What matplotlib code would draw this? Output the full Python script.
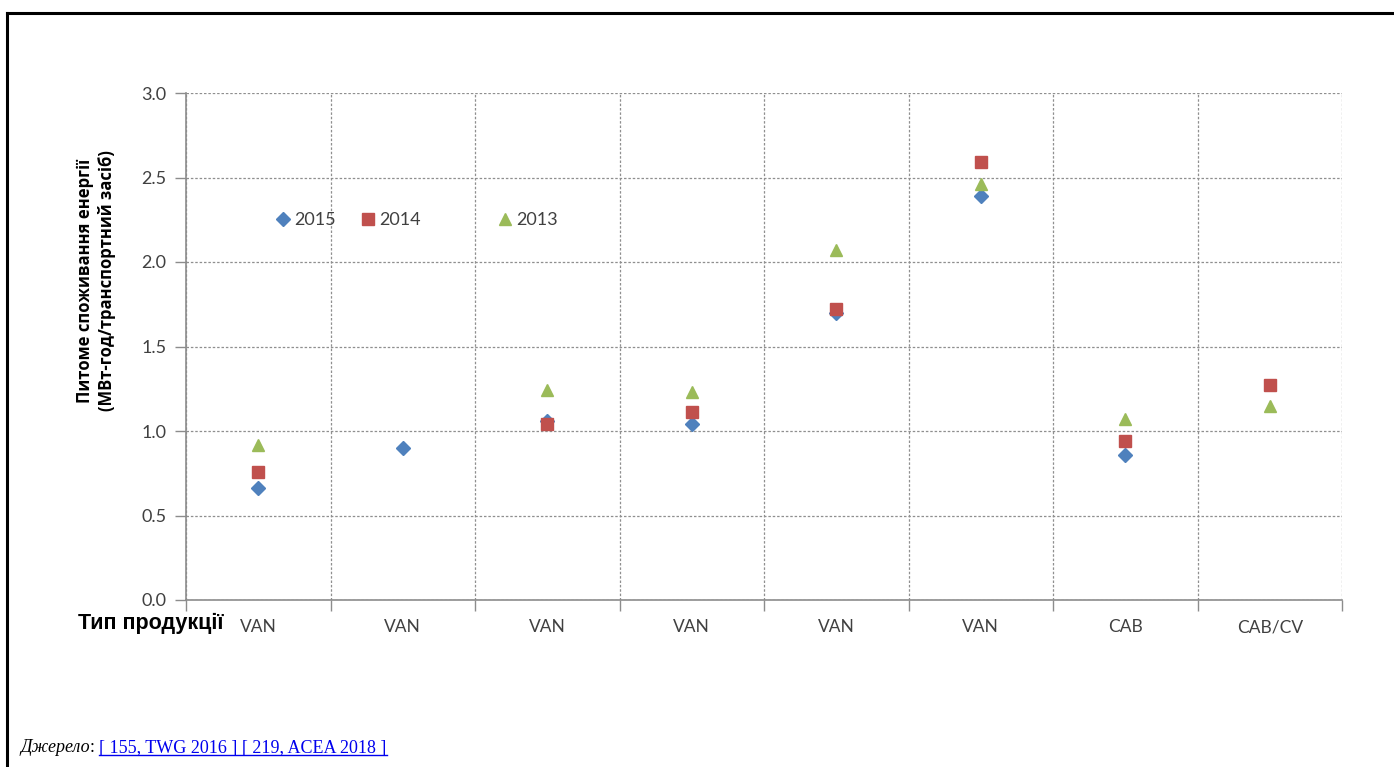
import matplotlib
matplotlib.use("Agg")
import matplotlib.pyplot as plt
import numpy as np
from matplotlib.lines import Line2D
from matplotlib.legend import Legend

categories = ["VAN", "VAN", "VAN", "VAN", "VAN", "VAN", "CAB", "CAB/CV"]
y2015 = [0.66, 0.90, 1.06, 1.04, 1.70, 2.39, 0.86, np.nan]
y2014 = [0.76, np.nan, 1.04, 1.11, 1.72, 2.59, 0.94, 1.27]
y2013 = [0.92, np.nan, 1.24, 1.23, 2.07, 2.46, 1.07, 1.15]
yticks = [0.0, 0.5, 1.0, 1.5, 2.0, 2.5, 3.0]

W, H = 1394, 767
fig = plt.figure(figsize=(W / 100, H / 100), dpi=100)
ax = fig.add_axes([186 / W, 1 - 600 / H, (1342 - 186) / W, (600 - 93) / H])

TF = ["Lato", "Open Sans", "DejaVu Sans"]
x = np.arange(len(categories)) + 0.5
c15, c14, c13 = "#4F81BD", "#C0504D", "#9BBB59"
l15, = ax.plot(x, y2015, ls="none", marker="D", ms=7, color=c15, label="2015", zorder=3)
l14, = ax.plot(x, y2014, ls="none", marker="s", ms=8, color=c14, label="2014", zorder=3)
l13, = ax.plot(x, y2013, ls="none", marker="^", ms=9, color=c13, label="2013", zorder=3)

ax.set_xlim(0, len(categories))
ax.set_ylim(0, 3.0)
ax.set_yticks(yticks)
ax.set_yticklabels([f"{v:.1f}" for v in yticks])
ax.set_xticks(np.arange(0, len(categories) + 1))
ax.set_xticklabels([])
ax.set_xticks(x, minor=True)
ax.set_xticklabels(categories, minor=True)
ax.tick_params(axis="x", which="major", length=8, direction="out", color="#8c8c8c", width=1)
ax.tick_params(axis="x", which="minor", length=0, pad=14, labelsize=12.5, labelcolor="#404040")
ax.tick_params(axis="y", length=8, direction="out", color="#8c8c8c", width=1, labelsize=13,
               labelcolor="#404040", pad=6)
for lab in ax.get_xticklabels(minor=True) + ax.get_yticklabels():
    lab.set_family(TF)

ax.grid(True, which="major", axis="both", ls=(0, (2, 1.5)), color="#8f8f8f", lw=0.9)
ax.set_axisbelow(True)
for s in ["top", "right"]:
    ax.spines[s].set_visible(False)
for s in ["left", "bottom"]:
    ax.spines[s].set_color("#8c8c8c")
    ax.spines[s].set_linewidth(1.2)

# legend entries placed like the original (three independent entries)
for h, lab, px in [(l15, "2015", 274), (l14, "2014", 359), (l13, "2013", 496)]:
    lg = Legend(ax, [h], [lab], loc="center left",
                bbox_to_anchor=((px - 186) / 1156, (600 - 220) / 507),
                frameon=False, handletextpad=0.1, handlelength=1.0, borderpad=0,
                borderaxespad=0, prop={"family": TF, "size": 13})
    for t in lg.get_texts():
        t.set_color("#404040")
    ax.add_artist(lg)

fig.text(96 / W, 1 - 281 / H, "Питоме споживання енергії\n(МВт-год/транспортний засіб)",
         rotation=90, ha="center", va="center", fontsize=12, fontweight="bold",
         family=["Open Sans", "DejaVu Sans"], linespacing=1.25)
fig.text(224 / W, 1 - 623 / H, "Тип продукції", ha="right", va="center", fontsize=15.5,
         fontweight="bold", family=["Liberation Sans Narrow", "Liberation Sans", "DejaVu Sans"])

# source line
SF = ["Liberation Serif", "DejaVu Serif"]
ys = 1 - 748 / H
fs = 13
t1 = fig.text(20 / W, ys, "Джерело", ha="left", va="center", fontsize=fs,
              style="italic", family=SF)
fig.canvas.draw()
r = fig.canvas.get_renderer()
bb = t1.get_window_extent(r)
t2 = fig.text(bb.x1 / W, ys, ": ", ha="left", va="center", fontsize=fs, family=SF)
bb2 = t2.get_window_extent(r)
t3 = fig.text(bb2.x1 / W, ys, "[ 155, TWG 2016 ] [ 219, ACEA 2018 ]", ha="left",
              va="center", fontsize=fs, color="#0000EE", family=SF)
bb3 = t3.get_window_extent(r)
uy = (bb3.y0 + 2) / H
fig.add_artist(Line2D([bb3.x0 / W, bb3.x1 / W], [uy, uy], color="#0000EE", lw=1.0,
                      transform=fig.transFigure))

# outer frame
fig.add_artist(Line2D([7 / W, 7 / W], [0, 1 - 13 / H], color="black", lw=2.2, transform=fig.transFigure))
fig.add_artist(Line2D([7 / W, 1], [1 - 13 / H, 1 - 13 / H], color="black", lw=2.2, transform=fig.transFigure))

fig.savefig("out.png", dpi=100)
